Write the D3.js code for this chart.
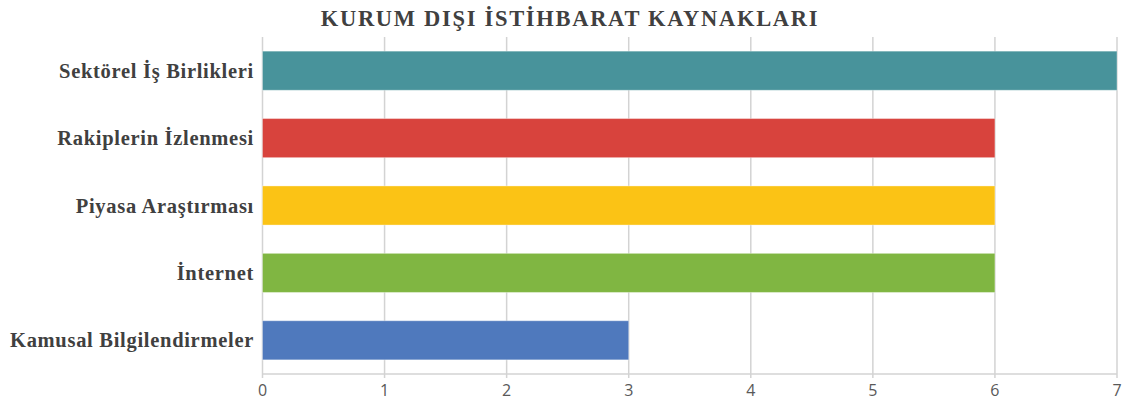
<!DOCTYPE html>
<html>
<head>
<meta charset="utf-8">
<script src="https://d3js.org/d3.v7.min.js"></script>
<style>
  body { margin: 0; background: #ffffff; }
  svg { display: block; }
</style>
</head>
<body>
<div id="chart"></div>
<script>
  // data
  const categories = ["Sektörel İş Birlikleri", "Rakiplerin İzlenmesi", "Piyasa Araştırması", "İnternet", "Kamusal Bilgilendirmeler"]
  const values = [7, 6, 6, 6, 3]
  const barColors = ["#48939b", "#d8433d", "#fbc315", "#80b642", "#4f79bd"]
  const xTicks = [0, 1, 2, 3, 4, 5, 6, 7]
  const title = "KURUM DIŞI İSTİHBARAT KAYNAKLARI"

  const width = 1128
  const height = 401
  const margin = { top: 37, right: 11, bottom: 27, left: 262.5 }

  const svg = d3.select("#chart").append("svg")
    .attr("width", width)
    .attr("height", height)

  const x = d3.scaleLinear()
    .domain([0, 7])
    .range([margin.left, width - margin.right])

  const y = d3.scaleBand()
    .domain(categories)
    .range([margin.top, height - margin.bottom])
    .paddingInner(0.42)
    .paddingOuter(0.21)

  // vertical gridlines
  svg.append("g")
    .selectAll("line")
    .data(xTicks)
    .join("line")
    .attr("x1", d => x(d))
    .attr("x2", d => x(d))
    .attr("y1", margin.top)
    .attr("y2", height - margin.bottom + 4)
    .attr("stroke", "#d3d3d3")
    .attr("stroke-width", 1.5)

  // bottom axis line
  svg.append("line")
    .attr("x1", x(0))
    .attr("x2", x(7))
    .attr("y1", height - margin.bottom)
    .attr("y2", height - margin.bottom)
    .attr("stroke", "#d3d3d3")
    .attr("stroke-width", 1.5)

  // bars
  svg.append("g")
    .selectAll("rect")
    .data(categories)
    .join("rect")
    .attr("x", x(0))
    .attr("y", d => y(d))
    .attr("width", (d, i) => x(values[i]) - x(0))
    .attr("height", y.bandwidth())
    .attr("fill", (d, i) => barColors[i])
    .attr("stroke", "#ffffff")
    .attr("stroke-opacity", 0.35)
    .attr("stroke-width", 1)

  // x tick labels
  svg.append("g")
    .selectAll("text")
    .data(xTicks)
    .join("text")
    .attr("x", d => x(d))
    .attr("y", 396)
    .attr("text-anchor", "middle")
    .attr("font-family", "'Open Sans', 'DejaVu Sans', sans-serif")
    .attr("font-size", 16)
    .attr("fill", "#595959")
    .text(d => d)

  // category labels
  svg.append("g")
    .selectAll("text")
    .data(categories)
    .join("text")
    .attr("x", 254)
    .attr("y", d => y(d) + y.bandwidth() / 2)
    .attr("dy", "0.35em")
    .attr("text-anchor", "end")
    .attr("font-family", "'Liberation Serif', 'Times New Roman', serif")
    .attr("font-weight", "bold")
    .attr("font-size", 20.5)
    .attr("letter-spacing", 0.7)
    .attr("fill", "#404040")
    .text(d => d)

  // title
  svg.append("text")
    .attr("x", 570)
    .attr("y", 26)
    .attr("text-anchor", "middle")
    .attr("font-family", "'Liberation Serif', 'Times New Roman', serif")
    .attr("font-weight", "bold")
    .attr("font-size", 22.5)
    .attr("letter-spacing", 1.7)
    .attr("fill", "#404040")
    .text(title)
</script>
</body>
</html>
